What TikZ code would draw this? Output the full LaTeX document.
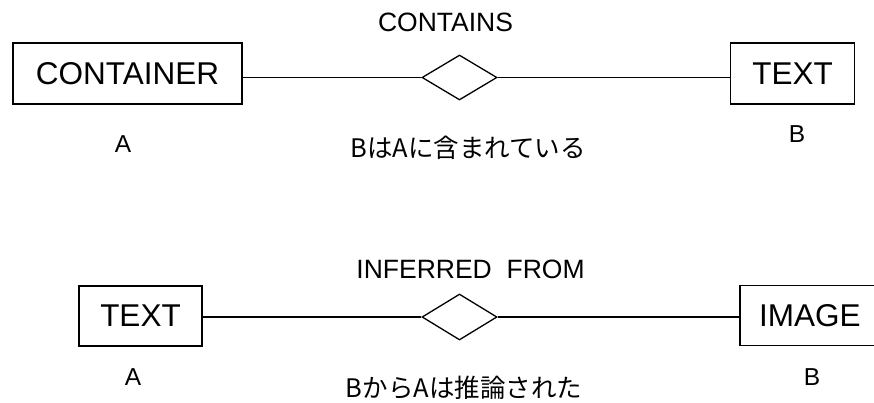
\documentclass[tikz,border=0pt]{standalone}
\usepackage{fontspec}
\setmainfont{Liberation Sans}
\newfontfamily\jp{Noto Sans CJK JP}
\usetikzlibrary{shapes.geometric}
\tikzset{
  entity/.style={draw, line width=1.3pt, inner sep=0pt, font=\fontsize{31.5}{36}\selectfont, minimum height=61pt},
  rel/.style={draw, diamond, line width=1.3pt, inner sep=0pt, minimum width=75pt, minimum height=45pt},
  conn/.style={line width=1.3pt},
  rlabel/.style={anchor=base, inner sep=0pt, font=\fontsize{26.5}{30}\selectfont},
  role/.style={anchor=base, inner sep=0pt, font=\fontsize{24.5}{28}\selectfont},
  jlabel/.style={anchor=base, inner sep=0pt, font=\jp\fontsize{25.5}{29}\selectfont}
}
\begin{document}
\begin{tikzpicture}[x=1pt,y=-1pt]
\clip (0,0) rectangle (874,403);
\fill[white] (0,0) rectangle (874,403);
% top row
\node[entity, minimum width=229pt] (c1) at (127.5,73.5) {CONTAINER};
\node[rel] (d1) at (459.5,77.5) {};
\node[entity, minimum width=124pt] (t1) at (792.7,73.5) {TEXT};
\draw[conn] (c1.east |- d1.west) -- (d1.west);
\draw[conn] (d1.east) -- (d1.east -| t1.west);
\node[rlabel] (l1) at (445.5,31.7) {CONTAINS};
\node[role] (a1) at (123,153) {A};
\node[role] (b1) at (797,143) {B};
\node[jlabel] (j1) at (468,158) {BはAに含まれている};
% bottom row
\node[entity, minimum width=123pt, minimum height=60pt] (t2) at (140.5,316) {TEXT};
\node[rel, minimum height=46pt] (d2) at (459.5,317) {};
\node[entity, minimum width=140pt, minimum height=60pt, text width=134pt, align=left] (i2) at (810,315.5) {\hspace*{16pt}IMAGE};
\draw[conn] (t2.east |- d2.west) -- (d2.west);
\draw[conn] (d2.east) -- (d2.east -| i2.west);
\node[rlabel] (l2) at (470.5,278) {INFERRED\ \ FROM};
\node[role] (a2) at (133,385) {A};
\node[role] (b2) at (812,385) {B};
\node[jlabel] (j2) at (464,397) {BからAは推論された};
\end{tikzpicture}
\end{document}
